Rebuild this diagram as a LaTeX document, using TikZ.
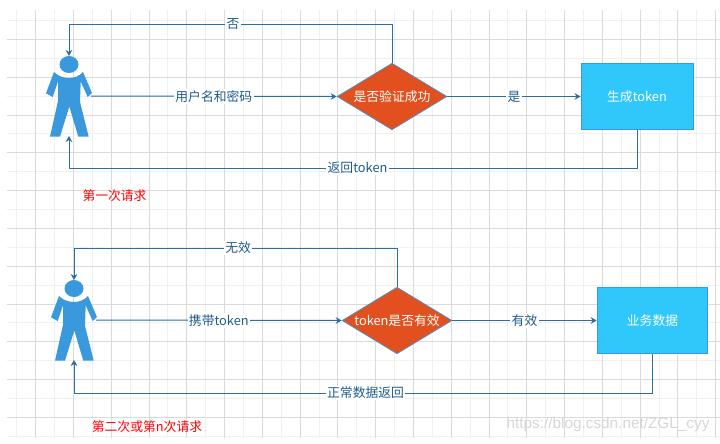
\documentclass[tikz,border=0pt]{standalone}
\usepackage{fontspec}
\setmainfont{Noto Sans CJK SC}
\newfontfamily\wmfont{Liberation Sans}
\usetikzlibrary{arrows.meta,shapes.geometric}
\definecolor{linec}{HTML}{2A6FA3}
\definecolor{textc}{HTML}{1F5C8A}
\definecolor{personc}{HTML}{3A99DC}
\definecolor{decc}{HTML}{E2501F}
\definecolor{boxc}{HTML}{30C7FA}
\definecolor{boxe}{HTML}{3A99DC}
\definecolor{majorc}{HTML}{DADADA}
\definecolor{minorc}{HTML}{F0F0F0}
\tikzset{
  >={Stealth[length=4.5pt,width=5pt]},
  majorg/.style={draw=majorc,line width=0.75pt},
  minorg/.style={draw=minorc,line width=0.75pt},
  flow/.style={draw=linec,line width=0.75pt},
  lbl/.style={font=\fontsize{9.6}{11}\selectfont,text=textc,fill=white,inner sep=1pt},
  dec/.style={diamond,draw=boxe,line width=0.5pt,fill=decc,aspect=1.65,inner sep=0pt,text=white,font=\fontsize{9.6}{11}\selectfont},
  res/.style={rectangle,draw=boxe,line width=0.75pt,fill=boxc,text=white,font=\fontsize{9.6}{11}\selectfont},
  rednote/.style={font=\fontsize{9.6}{11}\selectfont,text=red,inner sep=0pt},
  wmark/.style={font=\wmfont\fontsize{11.5}{13}\selectfont,text=black!16,inner sep=0pt},
  user/.pic={
    \fill[personc] (0,-31.5) ellipse (9.5 and 8.5);
    \fill[personc] (-15,-24) .. controls (-7,-16) and (7,-16) .. (14,-24) -- (23,-3) -- (18.7,1) -- (11.7,-14.5) -- (11,6) -- (19.7,40.7) -- (9.3,40.7) -- (0.3,10.5) -- (-9,40.7) -- (-19,40.7) -- (-11,5) -- (-11,-14.5) -- (-16.3,1) -- (-23,-2.7) -- cycle;
    \coordinate (-top) at (0,-40);
    \coordinate (-bot) at (0,40);
    \coordinate (-right) at (22,0);
  },
}
\begin{document}
\begin{tikzpicture}[x=0.75pt,y=-0.75pt]
  \useasboundingbox (0,0) rectangle (720,443);
  % grid
  \foreach \k in {0,...,18} \draw[minorg] ({16.8+37.78*\k},10) -- ({16.8+37.78*\k},438);
  \foreach \k in {0,...,11} \draw[minorg] (7,{20.5+37.8*\k}) -- (720,{20.5+37.8*\k});
  \foreach \k in {0,...,18} \draw[majorg] ({35.7+37.78*\k},10) -- ({35.7+37.78*\k},438);
  \foreach \k in {0,...,10} \draw[majorg] (7,{39.4+37.8*\k}) -- (720,{39.4+37.8*\k});
  % first request
  \pic (usr1) at (69,96) {user};
  \node[dec,minimum width=82.5pt,minimum height=50pt] (dec1) at (392,96.5) {是否验证成功};
  \node[res,minimum width=84pt,minimum height=50pt] (res1) at (637,96.5) {生成token};
  \draw[flow,->] (usr1-right) -- node[lbl]{用户名和密码} (dec1.west);
  \draw[flow,->] (dec1.east) -- node[lbl,pos=0.5]{是} (res1.west);
  \node[rednote] (note1) at (114.5,195.5) {第一次请求};
  % second request
  \pic (usr2) at (74,320) {user};
  \node[dec,minimum width=82.5pt,minimum height=50pt] (dec2) at (397,320.5) {token是否有效};
  \node[res,minimum width=83pt,minimum height=50pt] (res2) at (652.5,320.5) {业务数据};
  \draw[flow,->] (usr2-right) -- node[lbl]{携带token} (dec2.west);
  \draw[flow,->] (dec2.east) -- node[lbl,pos=0.5]{有效} (res2.west);
  \node[rednote] (note2) at (147,427) {第二次或第n次请求};
  \node[wmark] (wm) at (608,425) {https://blog.csdn.net/ZGL\_cyy};
  % return paths
  \coordinate (ret1) at (69,24);
  \coordinate (ret2) at (69,168);
  \coordinate (ret3) at (74,248);
  \coordinate (ret4) at (74,393);
  \draw[flow] (dec1.north) |- node[lbl,pos=0.746]{否} (ret1);
  \draw[flow,->] (ret1) -- (usr1-top);
  \draw[flow] (res1.south) |- node[lbl,pos=0.746]{返回token} (ret2);
  \draw[flow,->] (ret2) -- (usr1-bot);
  \draw[flow] (dec2.north) |- node[lbl,pos=0.746]{无效} (ret3);
  \draw[flow,->] (ret3) -- (usr2-top);
  \draw[flow] (res2.south) |- node[lbl,pos=0.748]{正常数据返回} (ret4);
  \draw[flow,->] (ret4) -- (usr2-bot);
\end{tikzpicture}
\end{document}
